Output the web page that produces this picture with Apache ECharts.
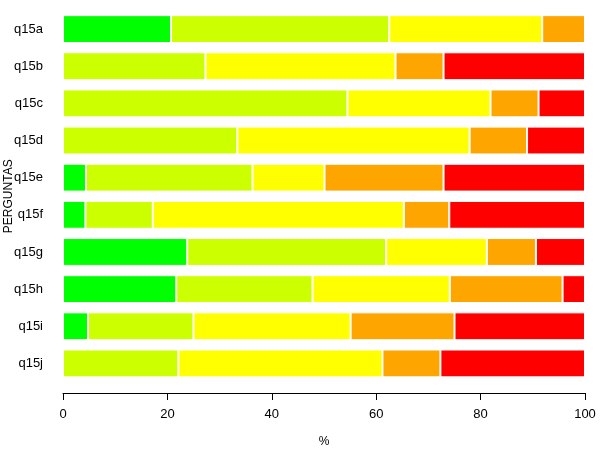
<!DOCTYPE html>
<html>
<head>
<meta charset="utf-8">
<script src="https://cdn.jsdelivr.net/npm/echarts@6/dist/echarts.min.js"></script>
<style>html,body{margin:0;padding:0;background:#fff}#c{width:600px;height:450px}</style>
</head>
<body>
<div id="c"></div>
<script>
const categories = ['q15a','q15b','q15c','q15d','q15e','q15f','q15g','q15h','q15i','q15j'];
const green      = [20.7, 0,    0,    0,    4.4,  4.3,  23.8, 21.7, 4.8,  0];
const yellowGreen= [41.8, 27.3, 54.5, 33.4, 31.9, 12.9, 38.1, 26.1, 20.2, 22.1];
const yellow     = [29.3, 36.4, 27.4, 44.5, 13.8, 48.1, 19.3, 26.3, 30.1, 39.1];
const orange     = [8.2,  9.2,  9.2,  11.0, 22.8, 8.7,  9.4,  21.6, 19.9, 11.1];
const red        = [0,    27.1, 8.9,  11.1, 27.1, 26.0, 9.4,  4.3,  25.0, 27.7];
const xTicks = [0, 20, 40, 60, 80, 100];

const seriesData = [
  {name:'1', data:green, color:'#00FF00'},
  {name:'2', data:yellowGreen, color:'#CCFF00'},
  {name:'3', data:yellow, color:'#FFFF00'},
  {name:'4', data:orange, color:'#FFA500'},
  {name:'5', data:red, color:'#FF0000'}
];

const FONT = 'Liberation Sans, Arial, sans-serif';
const chart = echarts.init(document.getElementById('c'), null, {renderer:'canvas'});
chart.setOption({
  backgroundColor:'#ffffff',
  animation:false,
  textStyle:{fontFamily:FONT},
  grid:{left:63, right:15, top:10.5, bottom:68, containLabel:false, outerBoundsMode:'none'},
  xAxis:{
    type:'value', min:0, max:100, interval:20,
    offset:11,
    name:'%', nameLocation:'middle', nameGap:43, nameMoveOverlap:false,
    nameTextStyle:{color:'#000', fontSize:12, fontFamily:FONT},
    axisLine:{show:true, lineStyle:{color:'#000', width:1}},
    axisTick:{show:true, length:7, lineStyle:{color:'#000'}},
    axisLabel:{color:'#000', fontSize:13, margin:15, fontFamily:FONT,
      formatter: v => xTicks.includes(v) ? String(v) : ''},
    splitLine:{show:false}
  },
  yAxis:{
    type:'category', data:categories, inverse:true,
    name:'PERGUNTAS', nameLocation:'middle', nameGap:48, nameRotate:90, nameMoveOverlap:false,
    nameTextStyle:{color:'#000', fontSize:12, fontFamily:FONT},
    axisLine:{show:false}, axisTick:{show:false},
    axisLabel:{color:'#000', fontSize:13, margin:20, fontFamily:FONT}
  },
  series: seriesData.map(s => ({
    name:s.name, type:'bar', stack:'total', data:s.data,
    barCategoryGap:'25%',
    itemStyle:{color:s.color, borderColor:'#ffffff', borderWidth:1},
    emphasis:{disabled:true}
  }))
});
</script>
</body>
</html>
